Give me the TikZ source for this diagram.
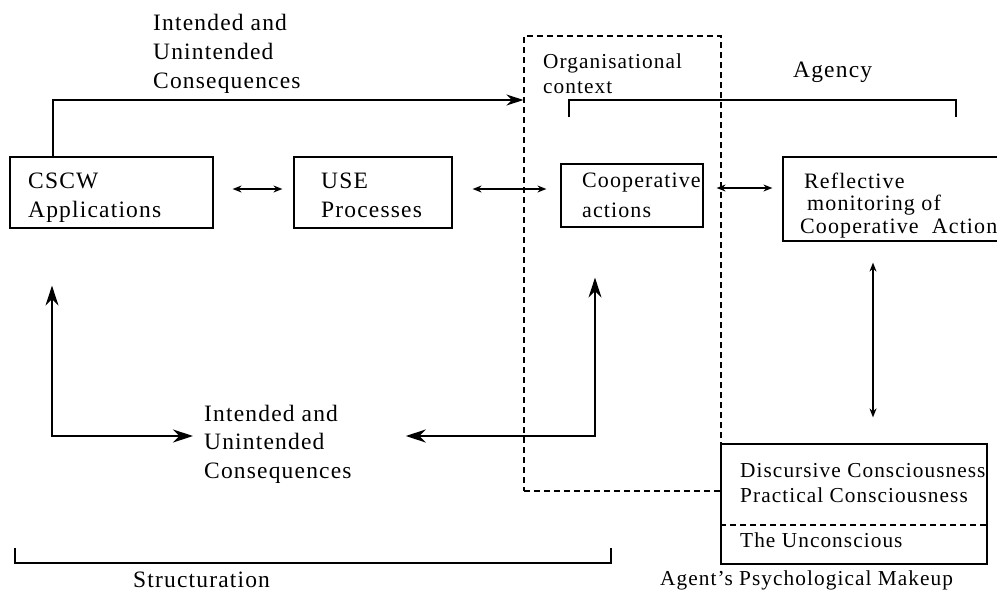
\documentclass[tikz,border=0pt]{standalone}
\usepackage{fontspec}
\setmainfont{Liberation Serif}[LetterSpace=5]
\usetikzlibrary{arrows.meta,calc}

\begin{document}
\begin{tikzpicture}[x=1pt,y=-1pt,
  box/.style={draw, line width=1.2pt, inner sep=0pt, rectangle},
  dashbox/.style={draw, line width=1.1pt, dash pattern=on 6pt off 4pt, inner sep=0pt, rectangle},
  lab/.style={inner sep=0pt, align=left, anchor=base west, font=\fontsize{23.5}{29}\selectfont},
  boxtxt/.style={inner sep=0pt, align=left, anchor=base west, font=\fontsize{22}{30}\selectfont},
  smalltxt/.style={inner sep=0pt, align=left, anchor=base west, font=\fontsize{21.3}{25}\selectfont},
  conn/.style={line width=1.3pt},
  dbl/.style={conn, {Stealth[length=9pt,width=7pt]}-{Stealth[length=9pt,width=7pt]}},
  bigone/.style={conn, -{Stealth[length=17pt,width=11pt]}},
  bigdbl/.style={conn, {Stealth[length=20pt,width=13pt]}-{Stealth[length=20pt,width=13pt]}}
]
\useasboundingbox (0,0) rectangle (997,595);

% boxes
\node[box, minimum width=203pt, minimum height=71pt] (cscw) at (111.5,192.5) {};
\node[box, minimum width=158pt, minimum height=71pt] (use) at (373,192.5) {};
\node[box, minimum width=142pt, minimum height=63pt] (coop) at (632,195.5) {};
\node[box, minimum width=227pt, minimum height=84pt] (refl) at (896.5,199) {};
\node[dashbox, minimum width=197pt, minimum height=455pt] (org) at (622.5,263.5) {};
\node[box, minimum width=266pt, minimum height=120pt] (psych) at (854,504) {};
\coordinate (divy) at (0,525);
\draw[line width=1.1pt, dash pattern=on 6pt off 4pt] (psych.west |- divy) -- (psych.east |- divy);

% texts (each node sits on the baseline of its last line)
\node[lab] (topcons) at (153,88) {Intended and\\Unintended\\Consequences};
\node[lab] (cscwt) at (28,217) {CSCW\\Applications};
\node[lab] (uset) at (321,217) {USE\\Processes};
\node[boxtxt] (coopt) at (582,217) {Cooperative\\actions};
\node[inner sep=0pt, align=left, anchor=base west, font=\fontsize{22}{22.5}\selectfont] (reflt) at (800,233)
  {\hspace*{4pt}Reflective\\\hspace*{7pt}monitoring of\\Cooperative\ \ Action};
\node[smalltxt] (orgt) at (543,93) {Organisational\\context};
\node[lab] (agency) at (793,77) {Agency};
\node[lab, font=\fontsize{23.5}{28.5}\selectfont] (botcons) at (204,478) {Intended and\\Unintended\\Consequences};
\node[lab] (struct) at (133,587) {Structuration};
\node[smalltxt] (conscious) at (740,502) {Discursive Consciousness\\Practical Consciousness};
\node[smalltxt] (uncons) at (740,547) {The Unconscious};
\node[smalltxt] (makeup) at (660,585) {Agent’s Psychological Makeup};

% brackets
\draw[conn] (569,117) -- (569,100) -- (956,100) -- (956,117);
\draw[conn] (15,548) -- (15,563) -- (611,563) -- (611,548);

% connectors
\coordinate (toprow) at (0,100);
\draw[bigone] ($(cscw.north)+(-58.5,0)$) |- (org.west |- toprow);
\draw[dbl] ($(cscw.east)+(19,-3.5)$) -- ($(use.west)+(-11,-3.5)$);
\draw[dbl] ($(use.east)+(20,-3.5)$) -- ($(coop.west)+(-14,-6.5)$);
\draw[dbl] ($(coop.east)+(13,-7.5)$) -- ($(refl.west)+(-10,-11)$);
\draw[dbl] ($(refl.south)+(-23.5,21)$) -- ($(psych.north)+(19,-26)$);

\coordinate (lc) at (52,436);
\coordinate (rc) at (595,436);
\draw[bigdbl] ($(lc |- cscw.south)+(0,57)$) -- (lc) -- ($(lc -| botcons.west)+(-11,0)$);
\draw[bigdbl] ($(rc -| botcons.east)+(54,0)$) -- (rc) -- ($(rc |- coop.south)+(0,50)$);
\end{tikzpicture}
\end{document}
